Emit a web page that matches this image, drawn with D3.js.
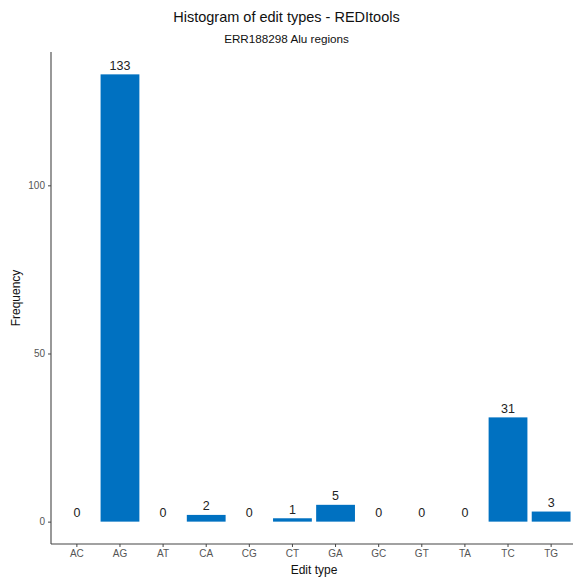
<!DOCTYPE html>
<html><head><meta charset="utf-8">
<script src="https://cdn.jsdelivr.net/npm/d3@7"></script>
<style>body{margin:0;background:#fff}svg{display:block;font-family:"Liberation Sans",Arial,sans-serif}</style>
</head><body><svg id="c" width="573" height="579"></svg>
<script>
const categories = ["AC","AG","AT","CA","CG","CT","GA","GC","GT","TA","TC","TG"];
const counts = [0,133,0,2,0,1,5,0,0,0,31,3];
const yTicks = [0,50,100];
const title = "Histogram of edit types - REDItools";
const subtitle = "ERR188298 Alu regions";
const xTitle = "Edit type", yTitle = "Frequency";

const svg = d3.select("#c");
const pL = 51, pR = 577, pT = 52, pB = 544;
const maxV = d3.max(counts);
const x = d3.scaleBand().domain(categories).range([pL, pR]).paddingInner(0.1).paddingOuter(0.15);
const y = d3.scaleLinear().domain([-0.05*maxV, maxV*1.05]).range([pB, pT]);
const blue = "#0071C1";

svg.selectAll("rect.bar").data(categories).enter().append("rect")
  .attr("x", d => x(d)).attr("width", x.bandwidth())
  .attr("y", (d,i) => y(counts[i])).attr("height", (d,i) => y(0) - y(counts[i]))
  .attr("fill", blue);

svg.selectAll("text.val").data(categories).enter().append("text")
  .attr("x", d => x(d) + x.bandwidth()/2).attr("y", (d,i) => y(counts[i]) - 4.5)
  .attr("text-anchor","middle").attr("font-size", 12.5).attr("fill","#222")
  .text((d,i) => counts[i]);

const yAxis = svg.append("g").attr("transform", `translate(${pL},0)`)
  .call(d3.axisLeft(y).tickValues(yTicks).tickSize(3).tickPadding(3));
const xAxis = svg.append("g").attr("transform", `translate(0,${pB})`)
  .call(d3.axisBottom(x).tickSize(3).tickPadding(3));
[xAxis, yAxis].forEach(g => {
  g.select(".domain").attr("stroke","#444").attr("stroke-width",1.1);
  g.selectAll(".tick line").attr("stroke","#444");
  g.selectAll(".tick text").attr("fill","#555").attr("font-size",10).attr("font-family","Liberation Sans, Arial, sans-serif");
});
xAxis.select(".domain").attr("d", `M${pL},0H${pR}`);
yAxis.select(".domain").attr("d", `M0,${pT}V${pB}`);

svg.append("text").attr("x", 286.5).attr("y", 22).attr("text-anchor","middle")
  .attr("font-size", 14.5).attr("fill","#111").text(title);
svg.append("text").attr("x", 286.5).attr("y", 43).attr("text-anchor","middle")
  .attr("font-size", 11.7).attr("fill","#111").text(subtitle);
svg.append("text").attr("x", (pL+pR)/2).attr("y", 574).attr("text-anchor","middle")
  .attr("font-size", 12).attr("fill","#111").text(xTitle);
svg.append("text").attr("transform", `translate(20,${(pT+pB)/2}) rotate(-90)`).attr("text-anchor","middle")
  .attr("font-size", 12).attr("fill","#111").text(yTitle);
</script></body></html>
